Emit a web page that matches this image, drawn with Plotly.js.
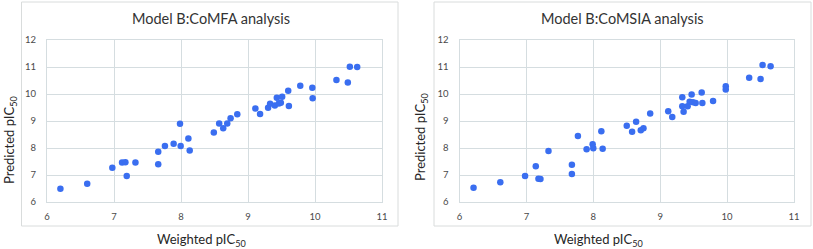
<!DOCTYPE html>
<html>
<head>
<meta charset="utf-8">
<script src="https://cdn.plot.ly/plotly-3.0.1.min.js"></script>
<style>html,body{margin:0;padding:0;background:#fff;}#chart{width:813px;height:249px;}</style>
</head>
<body>
<div id="chart"></div>
<script>
// CoMFA (left chart)
const comfaX = [6.20, 6.60, 6.975, 7.12, 7.17, 7.19, 7.32, 7.66, 7.66, 7.76, 7.89, 7.985, 7.995, 8.11, 8.13,
  8.49, 8.57, 8.63, 8.69, 8.74, 8.84, 9.11, 9.18, 9.30, 9.33, 9.40, 9.43, 9.46, 9.49, 9.51,
  9.60, 9.61, 9.78, 9.96, 9.965, 10.32, 10.49, 10.52, 10.63];
const comfaY = [6.49, 6.68, 7.27, 7.46, 7.47, 6.96, 7.46, 7.86, 7.40, 8.07, 8.16, 8.90, 8.07, 8.35, 7.91,
  8.57, 8.91, 8.73, 8.91, 9.10, 9.25, 9.46, 9.26, 9.49, 9.64, 9.57, 9.86, 9.65, 9.68, 9.90,
  10.12, 9.56, 10.31, 10.23, 9.84, 10.52, 10.43, 11.01, 11.00];
// CoMSIA (right chart)
const comsiaX = [6.21, 6.61, 6.98, 7.14, 7.18, 7.21, 7.33, 7.68, 7.68, 7.77, 7.90, 7.99, 8.00, 8.12, 8.14,
  8.50, 8.58, 8.64, 8.71, 8.75, 8.85, 9.12, 9.18, 9.33, 9.33, 9.35, 9.41, 9.44, 9.47, 9.49,
  9.53, 9.62, 9.63, 9.79, 9.98, 9.98, 10.33, 10.50, 10.53, 10.65];
const comsiaY = [6.53, 6.73, 6.96, 7.32, 6.86, 6.85, 7.89, 7.38, 7.04, 8.44, 7.95, 8.14, 7.99, 8.62, 7.97,
  8.82, 8.60, 8.97, 8.66, 8.73, 9.28, 9.36, 9.15, 9.55, 9.88, 9.34, 9.55, 9.71, 9.98, 9.69,
  9.67, 10.06, 9.67, 9.74, 10.29, 10.17, 10.60, 10.56, 11.07, 11.03];

const titles = ["Model B:CoMFA analysis", "Model B:CoMSIA analysis"];
const xTitle = "Weighted pIC<sub>50</sub>";
const yTitle = "Predicted pIC<sub>50</sub>";
const xTicks = [6, 7, 8, 9, 10, 11];
const yTicks = [6, 7, 8, 9, 10, 11, 12];

const W = 813, H = 249;
const px = v => v / W;
const py = v => (H - v) / H;

const FONT = "Lato, 'Open Sans', sans-serif";
const markerColor = "#3a6ef0";
const gridColor = "#d5dde0";
const boxColor = "#d9dcdc";

const traces = [
  {x: comfaX, y: comfaY, type: "scatter", mode: "markers", xaxis: "x", yaxis: "y",
   marker: {color: markerColor, size: 6.5}, hoverinfo: "x+y"},
  {x: comsiaX, y: comsiaY, type: "scatter", mode: "markers", xaxis: "x2", yaxis: "y2",
   marker: {color: markerColor, size: 6.5}, hoverinfo: "x+y"}
];

function xax(domain, anchor) {
  return {domain: domain, anchor: anchor, range: [6, 11], tickvals: xTicks, ticktext: xTicks.map(String),
    showgrid: true, gridcolor: gridColor, gridwidth: 1, zeroline: false,
    showline: true, linecolor: gridColor, mirror: true, ticks: "",
    ticklabelstandoff: 6, tickfont: {family: FONT, size: 9.5, color: "#4a4a4a"}, fixedrange: true};
}
function yax(domain, anchor) {
  return {domain: domain, anchor: anchor, range: [6, 12], tickvals: yTicks, ticktext: yTicks.map(String),
    showgrid: true, gridcolor: gridColor, gridwidth: 1, zeroline: false,
    showline: true, linecolor: gridColor, mirror: true, ticks: "",
    ticklabelstandoff: 8, tickfont: {family: FONT, size: 9.5, color: "#4a4a4a"}, fixedrange: true};
}

const yDom = [py(202), py(40)];
const layout = {
  width: W, height: H,
  margin: {l: 0, r: 0, t: 0, b: 0},
  paper_bgcolor: "#ffffff", plot_bgcolor: "#ffffff",
  showlegend: false,
  xaxis: xax([px(47), px(382)], "y"),
  yaxis: yax(yDom, "x"),
  xaxis2: xax([px(459.5), px(794)], "y2"),
  yaxis2: yax(yDom, "x2"),
  shapes: [
    {type: "rect", xref: "paper", yref: "paper", x0: px(21.5), x1: px(398), y0: py(226), y1: py(2),
     line: {color: boxColor, width: 1}, fillcolor: "rgba(0,0,0,0)", layer: "below"},
    {type: "rect", xref: "paper", yref: "paper", x0: px(434), x1: px(811), y0: py(226), y1: py(2),
     line: {color: boxColor, width: 1}, fillcolor: "rgba(0,0,0,0)", layer: "below"}
  ],
  annotations: [
    {text: titles[0], xref: "paper", yref: "paper", x: px(211), y: py(19), showarrow: false,
     xanchor: "center", yanchor: "middle", font: {family: FONT, size: 14.5, color: "#333333"}},
    {text: titles[1], xref: "paper", yref: "paper", x: px(622.5), y: py(19), showarrow: false,
     xanchor: "center", yanchor: "middle", font: {family: FONT, size: 14.5, color: "#333333"}},
    {text: xTitle, xref: "paper", yref: "paper", x: px(201), y: py(240), showarrow: false,
     xanchor: "center", yanchor: "middle", font: {family: FONT, size: 13, color: "#262626"}},
    {text: xTitle, xref: "paper", yref: "paper", x: px(598), y: py(240), showarrow: false,
     xanchor: "center", yanchor: "middle", font: {family: FONT, size: 13, color: "#262626"}},
    {text: yTitle, xref: "paper", yref: "paper", x: px(10), y: py(140), showarrow: false, textangle: -90,
     xanchor: "center", yanchor: "middle", font: {family: FONT, size: 13, color: "#262626"}},
    {text: yTitle, xref: "paper", yref: "paper", x: px(421), y: py(137), showarrow: false, textangle: -90,
     xanchor: "center", yanchor: "middle", font: {family: FONT, size: 13, color: "#262626"}}
  ]
};

Plotly.newPlot("chart", traces, layout, {displayModeBar: false});
</script>
</body>
</html>
